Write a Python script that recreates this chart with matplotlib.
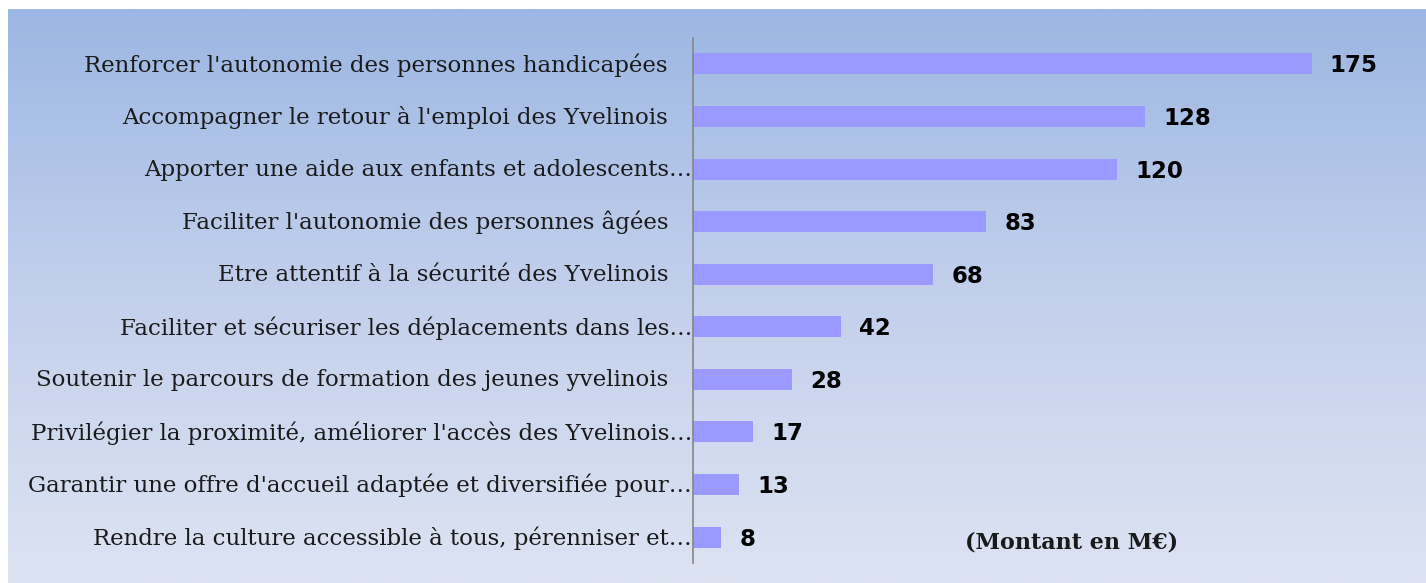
import numpy as np
import matplotlib
matplotlib.use('Agg')
import matplotlib.pyplot as plt
from matplotlib.colors import LinearSegmentedColormap
from matplotlib.transforms import offset_copy

labels = [
    "Renforcer l'autonomie des personnes handicapées",
    "Accompagner le retour à l'emploi des Yvelinois",
    "Apporter une aide aux enfants et adolescents…",
    "Faciliter l'autonomie des personnes âgées",
    "Etre attentif à la sécurité des Yvelinois",
    "Faciliter et sécuriser les déplacements dans les…",
    "Soutenir le parcours de formation des jeunes yvelinois",
    "Privilégier la proximité, améliorer l'accès des Yvelinois…",
    "Garantir une offre d'accueil adaptée et diversifiée pour…",
    "Rendre la culture accessible à tous, pérenniser et…",
]
values = [175, 128, 120, 83, 68, 42, 28, 17, 13, 8]
unit_note = "(Montant en M€)"

W, H = 1426, 583
fig = plt.figure(figsize=(W / 100, H / 100), dpi=100)
fig.patch.set_facecolor('white')

# gradient background panel
bg = fig.add_axes([8 / W, 0, 1 - 8 / W, 1 - 9 / H])
cmap = LinearSegmentedColormap.from_list('bg', ['#9cb7e3', '#c3d0ec', '#dde3f2'])
grad = np.linspace(0, 1, 256).reshape(-1, 1)
bg.imshow(grad, aspect='auto', cmap=cmap, extent=[0, 1, 0, 1], origin='upper')
bg.set_axis_off()

ax = fig.add_axes([693 / W, 1 - 563.3 / H, (1400 - 693) / W, (563.3 - 37.7) / H])
ax.set_facecolor('none')
y = np.arange(len(values))
ax.barh(y, values, height=0.4, color='#9999ff')
ax.set_xlim(0, 200)
ax.set_ylim(len(values) - 0.5, -0.5)

ax.set_yticks([])
ax.set_xticks([])
for s in ['top', 'right', 'bottom']:
    ax.spines[s].set_visible(False)
ax.spines['left'].set_color('#868686')
ax.spines['left'].set_linewidth(1.2)

# category labels: truncated ones run up to the axis, full ones stop short
for yi, lab in zip(y, labels):
    dx = -1 if lab.endswith('…') else -25
    tr = offset_copy(ax.get_yaxis_transform(), fig=fig, x=dx, y=-1, units='dots')
    ax.text(0, yi, lab, transform=tr, ha='right', va='center', fontsize=16.5,
            fontfamily='DejaVu Serif', color='#1a1a1a')

for yi, v in zip(y, values):
    ax.annotate(str(v), (v, yi), xytext=(18, -2), textcoords='offset pixels',
                va='center', ha='left', fontsize=16.5, fontweight='bold',
                fontfamily='DejaVu Sans', color='black')

ax.text(0.535, 0.04, unit_note, transform=ax.transAxes, ha='center', va='center',
        fontsize=16, fontweight='bold', fontfamily='DejaVu Serif', color='#1a1a1a')

fig.savefig('out.png', dpi=100)
